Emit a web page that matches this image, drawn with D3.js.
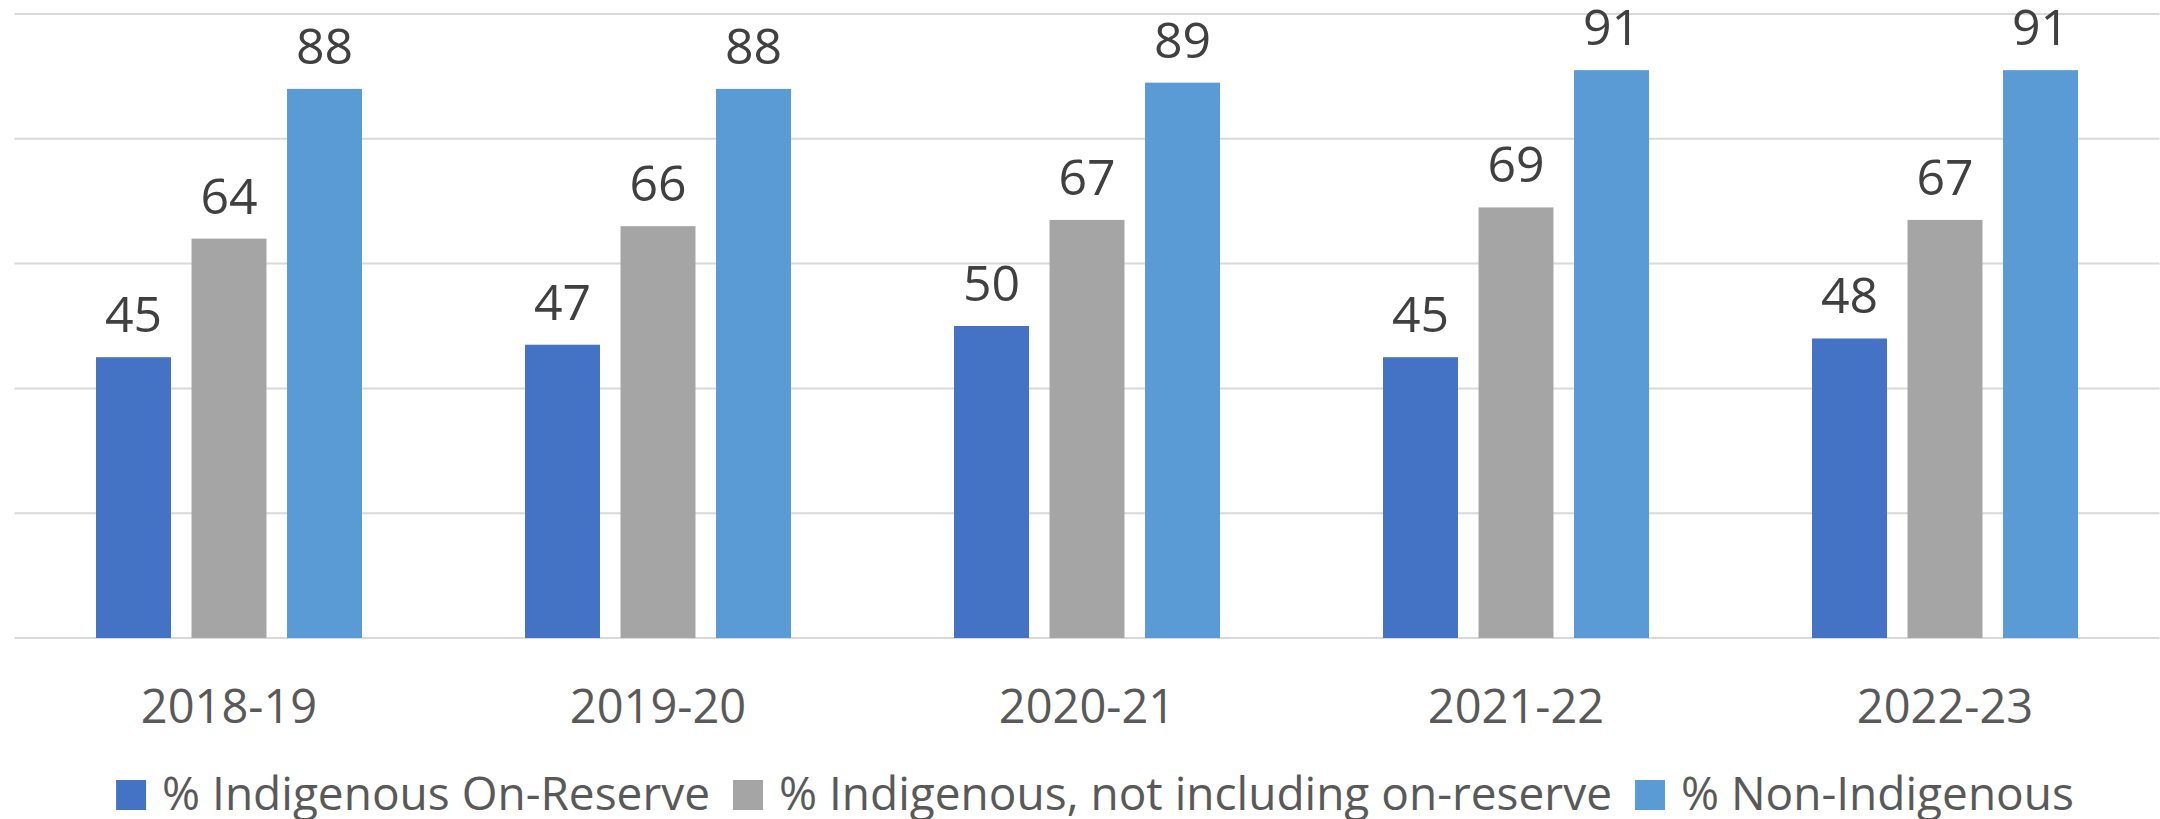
<!DOCTYPE html>
<html lang="en">
<head>
    <meta charset="UTF-8">
    <title>Indigenous vs Non-Indigenous by Year</title>
    <script src="https://d3js.org/d3.v7.min.js"></script>
    <style>
        html, body {
            margin: 0;
            padding: 0;
            background: #ffffff;
        }
        svg {
            display: block;
            font-family: "Open Sans", "Noto Sans", sans-serif;
        }
        .grid line {
            stroke: #d9d9d9;
            stroke-width: 2;
        }
        .value-label {
            fill: #404040;
            font-size: 50px;
        }
        .cat-label {
            fill: #595959;
            font-size: 47px;
        }
        .legend text {
            fill: #595959;
            font-size: 46px;
        }
    </style>
</head>
<body>
    <svg width="2160" height="819"></svg>

    <script>
        // Data
        const categories = ["2018-19", "2019-20", "2020-21", "2021-22", "2022-23"];
        const seriesNames = [
            "% Indigenous On-Reserve",
            "% Indigenous, not including on-reserve",
            "% Non-Indigenous"
        ];
        const onReserve = [45, 47, 50, 45, 48];
        const offReserve = [64, 66, 67, 69, 67];
        const nonIndigenous = [88, 88, 89, 91, 91];
        const gridTicks = [0, 20, 40, 60, 80, 100];
        const colors = ["#4472c4", "#a5a5a5", "#5b9bd5"];

        const seriesValues = [onReserve, offReserve, nonIndigenous];

        let width = 2160, height = 819;
        let margin = { top: 14, bottom: 181, left: 14.5, right: 0.5 };

        let svg = d3.select("svg");

        // Scales
        let xscale = d3.scaleBand()
            .domain(categories)
            .range([margin.left, width - margin.right])
            .paddingInner(0.38)
            .paddingOuter(0.19);

        let xsub = d3.scaleBand()
            .domain(seriesNames)
            .range([0, xscale.bandwidth()])
            .paddingInner(0.215);

        let yscale = d3.scaleLinear()
            .domain([0, 100])
            .range([height - margin.bottom, margin.top]);

        // Gridlines (no tick labels in the original)
        svg.append("g")
            .attr("class", "grid")
            .selectAll("line")
            .data(gridTicks)
            .join("line")
            .attr("x1", margin.left)
            .attr("x2", width - margin.right)
            .attr("y1", d => yscale(d))
            .attr("y2", d => yscale(d));

        // Bars + value labels
        seriesNames.forEach(function (name, si) {
            let vals = seriesValues[si];
            let g = svg.append("g");

            g.selectAll("rect")
                .data(categories)
                .join("rect")
                .attr("x", d => xscale(d) + xsub(name))
                .attr("y", (d, i) => yscale(vals[i]))
                .attr("width", xsub.bandwidth())
                .attr("height", (d, i) => yscale(0) - yscale(vals[i]))
                .attr("fill", colors[si]);

            g.selectAll("text")
                .data(categories)
                .join("text")
                .attr("class", "value-label")
                .attr("x", d => xscale(d) + xsub(name) + xsub.bandwidth() / 2)
                .attr("y", (d, i) => yscale(vals[i]) - 25)
                .attr("text-anchor", "middle")
                .text((d, i) => vals[i]);
        });

        // Category axis labels
        let xaxis = svg.append("g")
            .attr("transform", `translate(0, ${yscale(0)})`)
            .attr("font-size", null)
            .attr("font-family", null)
            .call(d3.axisBottom(xscale).tickSize(0).tickPadding(0));
        xaxis.attr("font-size", null).attr("font-family", null);
        xaxis.select(".domain").remove();
        xaxis.selectAll("text")
            .attr("class", "cat-label")
            .attr("dy", null)
            .attr("y", 85)
            .attr("fill", null);

        // Legend, centred under the chart
        let legend = svg.append("g").attr("class", "legend");
        let items = legend.selectAll("g")
            .data(seriesNames)
            .join("g");
        items.append("rect")
            .attr("width", 30)
            .attr("height", 30)
            .attr("y", -30)
            .attr("fill", (d, i) => colors[i]);
        items.append("text")
            .attr("x", 46)
            .text(d => d);

        let cursor = 0;
        items.each(function () {
            let tw = d3.select(this).select("text").node().getComputedTextLength();
            d3.select(this).attr("transform", `translate(${cursor}, 0)`);
            cursor += 46 + tw + 23;
        });
        let legendWidth = cursor - 23;
        legend.attr("transform", `translate(${(116 + 2074) / 2 - legendWidth / 2}, 810)`);
    </script>
</body>
</html>
